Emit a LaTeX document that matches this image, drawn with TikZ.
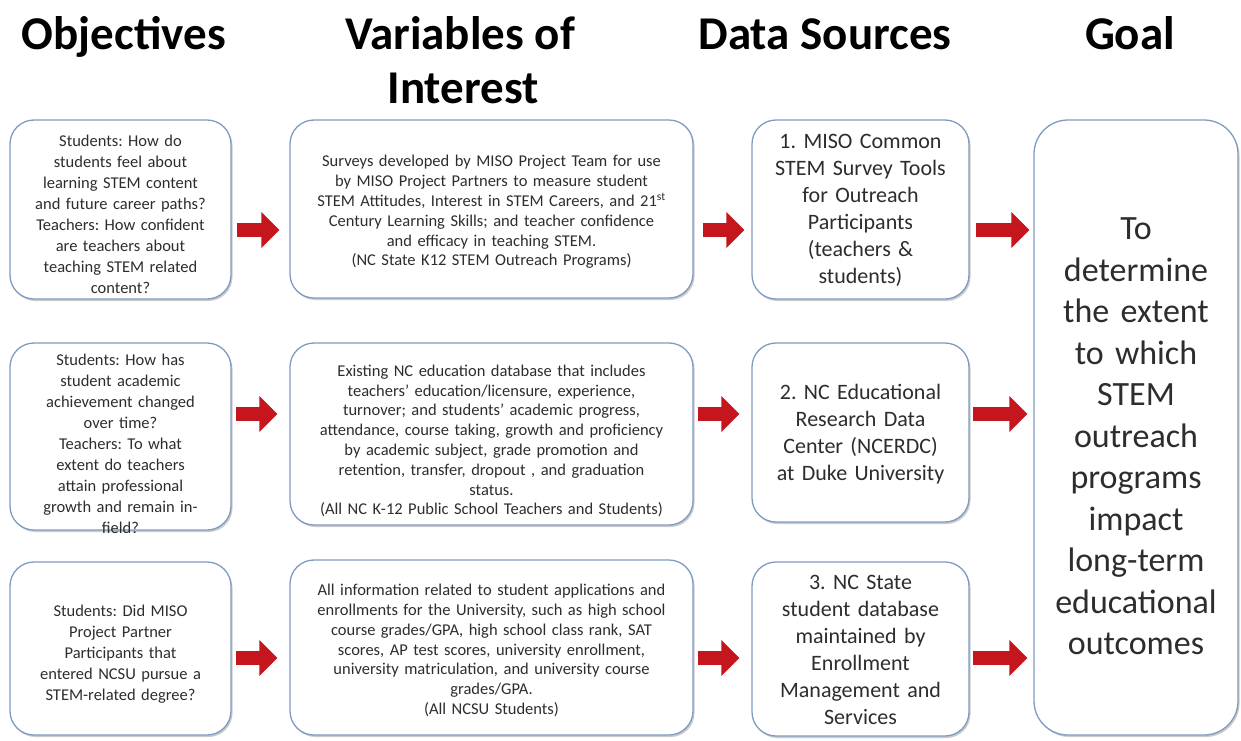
\documentclass[tikz,border=0pt]{standalone}
\usepackage{fontspec}
\setmainfont{Carlito}
\usetikzlibrary{shadows,calc,arrows.meta}
\definecolor{boxblue}{RGB}{126,156,192}
\definecolor{txtgray}{RGB}{45,45,45}
\definecolor{arrred}{RGB}{196,22,28}
\tikzset{
  box/.style={draw=boxblue, line width=1.3pt, fill=white, rounded corners=24pt, inner sep=0pt,
    drop shadow={shadow xshift=1.5pt, shadow yshift=-2pt, fill=black!45, opacity=.45}},
  txt/.style={align=center, text=txtgray, inner sep=0pt},
  head/.style={font=\fontsize{47}{56}\selectfont\bfseries, text=black, anchor=base, inner sep=0pt},
  bigarr/.style={line width=14pt, draw=arrred, -{Triangle[length=18pt,width=35pt]}},
  fobj/.style={font=\fontsize{16.5}{21}\selectfont, text width=215pt},
  fvar/.style={font=\fontsize{16.5}{19.8}\selectfont, text width=400pt},
  fdat/.style={font=\fontsize{22}{27}\selectfont, text width=214pt},
}
\begin{document}
\frenchspacing
\begin{tikzpicture}[x=1pt,y=-1pt]
\useasboundingbox[fill=white] (0,0) rectangle (1241,740);

% headings
\node[head] (h1) at (124,49) {Objectives};
\node[head] (h2a) at (460,49) {Variables of};
\node[head] (h2b) at (463,103) {Interest};
\node[head] (h3) at (825,49) {Data Sources};
\node[head] (h4) at (1130,49) {Goal};

% boxes
\node[box, minimum width=221pt, minimum height=179pt] (o1) at (120.5,209.5) {};
\node[box, minimum width=403pt, minimum height=178pt] (v1) at (491.5,209) {};
\node[box, minimum width=217pt, minimum height=179pt] (d1) at (860.5,209.5) {};
\node[box, minimum width=221pt, minimum height=187pt] (o2) at (120.5,436.5) {};
\node[box, minimum width=403pt, minimum height=182pt] (v2) at (491.5,434) {};
\node[box, minimum width=217pt, minimum height=179pt] (d2) at (860.5,432.5) {};
\node[box, minimum width=221pt, minimum height=173pt] (o3) at (120.5,648.5) {};
\node[box, minimum width=403pt, minimum height=175pt] (v3) at (491.5,647.5) {};
\node[box, minimum width=217pt, minimum height=174pt] (d3) at (860.5,649) {};
\node[box, rounded corners=34pt, minimum width=204pt, minimum height=615pt] (g) at (1136,427.5) {};

% texts
\node[txt, fobj] (o1t) at ($(o1)+(0,5)$)
 {Students: How do\\ students feel about\\ learning STEM content\\ and future career paths?\\ Teachers: How confident\\ are teachers about\\ teaching STEM related\\ content?};
\node[txt, fvar] (v1t) at ($(v1)+(0,3)$)
 {Surveys developed by MISO Project Team for use\\ by MISO Project Partners to measure student\\ STEM Attitudes, Interest in STEM Careers, and 21\textsuperscript{st}\\ Century Learning Skills; and teacher confidence\\ and efficacy in teaching STEM.\\ (NC State K12 STEM Outreach Programs)};
\node[txt, fdat] (d1t) at ($(d1)+(0,1)$)
 {1. MISO Common\\ STEM Survey Tools\\ for Outreach\\ Participants\\ (teachers \&\\ students)};

\node[txt, fobj] (o2t) at ($(o2)+(0,7)$)
 {Students: How has\\ student academic\\ achievement changed\\ over time?\\ Teachers: To what\\ extent do teachers\\ attain professional\\ growth and remain in-\\ field?};
\node[txt, fvar] (v2t) at ($(v2)+(0,7)$)
 {Existing NC education database that includes\\ teachers’ education/licensure, experience,\\ turnover; and students’ academic progress,\\ attendance, course taking, growth and proficiency\\ by academic subject, grade promotion and\\ retention, transfer, dropout , and graduation\\ status.\\ (All NC K-12 Public School Teachers and Students)};
\node[txt, fdat] (d2t) at ($(d2)+(0,2)$)
 {2. NC Educational\\ Research Data\\ Center (NCERDC)\\ at Duke University};

\node[txt, fobj] (o3t) at ($(o3)+(0,6)$)
 {Students: Did MISO\\ Project Partner\\ Participants that\\ entered NCSU pursue a\\ STEM-related degree?};
\node[txt, fvar] (v3t) at ($(v3)+(0,3)$)
 {All information related to student applications and\\ enrollments for the University, such as high school\\ course grades/GPA, high school class rank, SAT\\ scores, AP test scores, university enrollment,\\ university matriculation, and university course\\ grades/GPA.\\ (All NCSU Students)};
\node[txt, fdat] (d3t) at ($(d3)+(0,1)$)
 {3. NC State\\ student database\\ maintained by\\ Enrollment\\ Management and\\ Services};

\node[txt, font=\fontsize{34}{41.5}\selectfont, text width=200pt] (gt) at ($(g)+(0,9)$)
 {To\\ determine\\ the extent\\ to which\\ STEM\\ outreach\\ programs\\ impact\\ long-term\\ educational\\ outcomes};

% arrow rows
\coordinate (r1) at (0,230);
\coordinate (r2) at (0,414);
\coordinate (r3) at (0,658);

\draw[bigarr] ($(o1.east|-r1)+(5,0)$) -- ($(v1.west|-r1)+(-10,0)$);
\draw[bigarr] ($(v1.east|-r1)+(9,0)$) -- ($(d1.west|-r1)+(-7,0)$);
\draw[bigarr] ($(d1.east|-r1)+(6,0)$) -- ($(g.west|-r1)+(-4,0)$);

\draw[bigarr] ($(o2.east|-r2)+(4,0)$) -- ($(v2.west|-r2)+(-12,0)$);
\draw[bigarr] ($(v2.east|-r2)+(4,0)$) -- ($(d2.west|-r2)+(-12,0)$);
\draw[bigarr] ($(d2.east|-r2)+(3,0)$) -- ($(g.west|-r2)+(-6,0)$);

\draw[bigarr] ($(o3.east|-r3)+(4,0)$) -- ($(v3.west|-r3)+(-12,0)$);
\draw[bigarr] ($(v3.east|-r3)+(4,0)$) -- ($(d3.west|-r3)+(-12,0)$);
\draw[bigarr] ($(d3.east|-r3)+(3,0)$) -- ($(g.west|-r3)+(-6,0)$);
\end{tikzpicture}
\end{document}
